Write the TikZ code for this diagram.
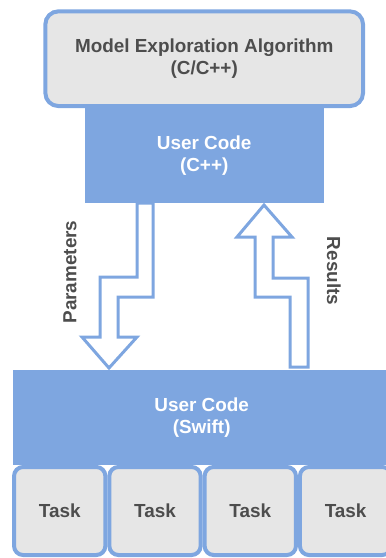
\documentclass[tikz,border=0pt]{standalone}
\usepackage{fontspec}
\setmainfont{Liberation Sans}
\usetikzlibrary{positioning}

\definecolor{boxblue}{HTML}{7EA6E0}
\definecolor{boxgray}{HTML}{E6E6E6}
\definecolor{txtgray}{HTML}{4D4D4D}

\begin{document}
\begin{tikzpicture}[
            x=1pt, y=-1pt,
            label-font/.style={
                font=\bfseries\fontsize{18.9}{22}\selectfont
            },
            gray-box/.style={
                label-font,
                draw=boxblue,
                line width=4pt,
                outer sep=2pt,
                fill=boxgray,
                text=txtgray,
                rounded corners=13pt,
                align=center,
                inner sep=0pt
            },
            blue-box/.style={
                label-font,
                fill=boxblue,
                text=white,
                outer sep=0pt,
                align=center,
                inner sep=0pt
            },
            block-arrow/.style={
                draw=boxblue,
                line width=3pt,
                fill=white
            }
        ]
        \useasboundingbox (0,0) rectangle (386,558);
        \clip (0,0) rectangle (386,558);
        % top level
        \node[gray-box, minimum width=317.7pt, minimum height=94.7pt] (algo) at (204.2, 58.7)
            {Model Exploration Algorithm\\(C/C++)};
        \node[blue-box, minimum width=239pt, minimum height=95pt, below=0pt of algo] (cppcode)
            {User Code\\(C++)};
        % swift layer
        \node[blue-box, minimum width=376.7pt, minimum height=95pt] (swiftcode) at (201.7, 417.5)
            {User Code\\(Swift)};
        \node[gray-box, rounded corners=9pt, minimum width=91.3pt, minimum height=88pt,
              below right=0pt and -1.3pt of swiftcode.south west] (task1) {Task};
        \foreach \prev/\cur in {1/2, 2/3, 3/4} {
            \node[gray-box, rounded corners=9pt, minimum width=91.3pt, minimum height=88pt,
                  right=0pt of task\prev] (task\cur) {Task};
        }
        % parameters going down
        \draw[block-arrow] (137, 203) -- (137, 277) -- (100, 277) -- (100, 337) -- (82, 337)
            -- (109, 368) -- (137, 337) -- (118, 337) -- (118, 297) -- (153, 297) -- (153, 203) -- cycle;
        % results going up
        \draw[block-arrow] (290, 367) -- (290, 297) -- (255, 297) -- (255, 237) -- (237, 237)
            -- (264, 205) -- (292, 237) -- (273, 237) -- (273, 278) -- (308, 278) -- (308, 367) -- cycle;
        \node[label-font, text=txtgray, rotate=90] (params) at (70, 272) {Parameters};
        \node[label-font, text=txtgray, rotate=-90] (results) at (334, 271) {Results};
        \end{tikzpicture}
\end{document}
